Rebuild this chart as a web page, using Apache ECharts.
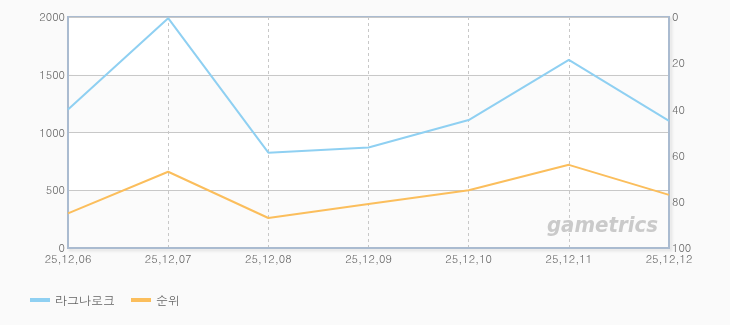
<!DOCTYPE html>
<html><head><meta charset="utf-8">
<script src="https://cdn.jsdelivr.net/npm/echarts@6/dist/echarts.min.js"></script>
<style>html,body{margin:0;padding:0;background:#fafafa;}#c{width:730px;height:325px;}</style>
</head><body><div id="c"></div>
<script>
var categories = ['25,12,06','25,12,07','25,12,08','25,12,09','25,12,10','25,12,11','25,12,12'];
var ragnarok = [1200, 1990, 825, 870, 1108, 1628, 1100];
var rank = [85, 67, 87, 81, 75, 64, 77];
var seriesNames = ['라그나로크', '순위'];

var chart = echarts.init(document.getElementById('c'), null, {renderer:'canvas'});
var font = 'Dotum, "Noto Sans CJK KR", "DejaVu Sans", sans-serif';
chart.setOption({
  backgroundColor: '#fafafa',
  animation: false,
  grid: {left: 68, right: 61, top: 17, bottom: 77, show: true, borderColor: '#aabbd0', borderWidth: 2, backgroundColor: 'transparent',
         shadowColor: 'rgba(0,0,0,0.12)', shadowBlur: 3, shadowOffsetX: 2, shadowOffsetY: 2},
  legend: {left: 25, bottom: 14, itemWidth: 20, itemHeight: 4, itemGap: 16, icon: 'rect',
           textStyle: {color: '#666', fontSize: 12, fontFamily: font},
           data: seriesNames},
  xAxis: {type: 'category', data: categories, boundaryGap: false,
          axisLine: {lineStyle: {color: '#aabbd0', width: 2}},
          axisTick: {show: false},
          axisLabel: {color: '#666', fontSize: 11, fontFamily: font, margin: 5, showMinLabel: true, showMaxLabel: true, interval: 0},
          splitLine: {show: true, lineStyle: {color: '#c8c8c8', type: [3,3], width: 1}}},
  yAxis: [
    {type: 'value', min: 0, max: 2000, interval: 500,
     axisLine: {show: true, lineStyle: {color: '#aabbd0', width: 2}},
     axisTick: {show: false},
     axisLabel: {color: '#666', fontSize: 11, fontFamily: font, margin: 3, formatter: function (v) { return String(v); }},
     splitLine: {show: true, lineStyle: {color: '#c8c8c8', width: 1}},
     splitArea: {show: true, areaStyle: {color: ['#fbfbfb', '#ffffff']}}},
    {type: 'value', min: 0, max: 100, interval: 20, inverse: true,
     axisLine: {show: true, lineStyle: {color: '#aabbd0', width: 2}},
     axisTick: {show: false},
     axisLabel: {color: '#666', fontSize: 11, fontFamily: font, margin: 3},
     splitLine: {show: false}}
  ],
  graphic: [{type: 'text', right: 72, bottom: 88, z: 1,
             style: {text: 'gametrics', fill: '#cacaca', font: 'italic bold 22px "Liberation Sans Narrow", "DejaVu Sans Condensed", sans-serif'}}],
  series: [
    {name: seriesNames[0], type: 'line', data: ragnarok, yAxisIndex: 0, symbol: 'none',
     lineStyle: {color: '#8fd0f2', width: 2}, itemStyle: {color: '#8fd0f2'}, z: 3},
    {name: seriesNames[1], type: 'line', data: rank, yAxisIndex: 1, symbol: 'none',
     lineStyle: {color: '#fbbe5c', width: 2}, itemStyle: {color: '#fbbe5c'}, z: 3}
  ]
});
</script></body></html>
